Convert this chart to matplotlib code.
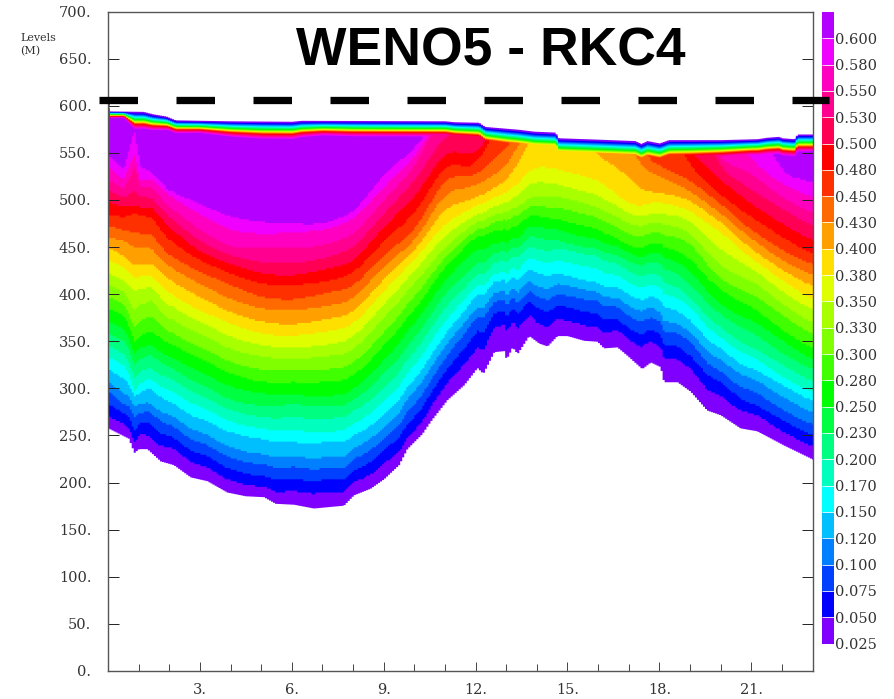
#!/usr/bin/env python3
"""Section of a tracer field: filled bands between isolines read off the plot."""

import numpy as np
import matplotlib
matplotlib.use("Agg")
import matplotlib.pyplot as plt

SERIF = "DejaVu Serif"
INK = "#333333"

levels = [0.025, 0.050, 0.075, 0.100, 0.120, 0.150, 0.170, 0.200, 0.230, 0.250, 0.280, 0.300,
          0.330, 0.350, 0.380, 0.400, 0.430, 0.450, 0.480, 0.500, 0.530, 0.550, 0.580, 0.600]
band_colors = ["#7f00ff", "#0000ff", "#0040ff", "#0080ff", "#00bfff", "#00ffff",
               "#00ffbf", "#00ff80", "#00ff40", "#00ff00", "#40ff00", "#80ff00",
               "#a8ff00", "#dfff00", "#ffdf00", "#ffa000", "#ff6a00", "#ff3000",
               "#ff0000", "#ff0055", "#ff0090", "#ff00c0", "#f000ff", "#b400ff"]

# height of each level's lower isoline at these stations, 600 = level absent there
iso_x = [0, 0.5, 0.85, 1.05, 1.4, 2, 3, 4, 5, 6, 7, 8, 9, 10, 11, 12, 13, 14, 15, 16, 17, 17.5, 18, 19, 20, 21, 22, 23]
iso_rows = [
    [258, 271, 284, 297, 307, 321, 334, 346, 358, 371, 385, 397, 410, 422, 436, 450, 461, 473, 485, 498, 510, 522, 535, 549],
    [250, 263, 274, 284, 295, 311, 325, 337, 351, 364, 378, 390, 403, 415, 429, 441, 457, 468, 482, 493, 503, 512, 522, 533],
    [232, 243, 256, 270, 281, 291, 298, 312, 325, 337, 350, 365, 383, 404, 417, 431, 450, 466, 486, 493, 510, 535, 549, 574],
    [236, 252, 263, 274, 284, 296, 305, 318, 331, 343, 356, 372, 389, 406, 419, 432, 450, 465, 484, 493, 503, 513, 522, 536],
    [236, 250, 265, 277, 286, 302, 312, 323, 337, 348, 362, 378, 394, 408, 420, 433, 449, 464, 482, 493, 503, 514, 523, 530],
    [220, 238, 249, 261, 272, 286, 298, 311, 323, 334, 348, 360, 374, 388, 401, 415, 429, 441, 457, 471, 482, 493, 505, 510],
    [204, 219, 231, 243, 254, 268, 281, 293, 305, 318, 332, 344, 358, 371, 383, 397, 411, 424, 436, 445, 456, 468, 485, 496],
    [190, 203, 215, 227, 238, 254, 265, 277, 288, 302, 316, 328, 342, 355, 369, 381, 395, 410, 422, 432, 441, 450, 468, 482],
    [186, 197, 208, 220, 231, 247, 258, 270, 282, 295, 307, 320, 334, 346, 358, 371, 385, 397, 411, 422, 434, 450, 464, 477],
    [177, 191, 204, 217, 228, 243, 256, 270, 284, 294, 307, 320, 332, 344, 356, 368, 383, 394, 410, 420, 433, 449, 466, 475],
    [174, 190, 203, 215, 227, 243, 254, 268, 281, 292, 307, 320, 334, 346, 360, 373, 387, 401, 413, 426, 438, 452, 468, 475],
    [180, 194, 206, 219, 231, 245, 258, 272, 284, 296, 311, 325, 339, 353, 367, 380, 394, 408, 422, 434, 449, 463, 479, 487],
    [204, 220, 235, 247, 259, 273, 286, 300, 316, 330, 346, 360, 376, 390, 404, 417, 431, 443, 457, 472, 486, 500, 514, 528],
    [248, 259, 273, 286, 300, 312, 327, 341, 355, 371, 385, 399, 413, 426, 438, 447, 457, 468, 486, 503, 521, 535, 546, 555],
    [288, 307, 321, 335, 348, 360, 374, 388, 403, 417, 431, 441, 452, 464, 477, 493, 509, 525, 539, 553, 570, 600, 600, 600],
    [321, 344, 362, 378, 388, 401, 411, 422, 434, 450, 463, 470, 478, 486, 495, 503, 516, 526, 535, 548, 575, 600, 600, 600],
    [331, 361, 376, 388, 399, 411, 420, 433, 443, 452, 466, 477, 486, 496, 507, 519, 534, 555, 600, 600, 600, 600, 600, 600],
    [350, 371, 387, 399, 410, 425, 438, 450, 463, 475, 486, 496, 506, 522, 538, 575, 600, 600, 600, 600, 600, 600, 600, 600],
    [356, 373, 387, 399, 410, 420, 434, 447, 454, 465, 477, 490, 502, 514, 530, 575, 600, 600, 600, 600, 600, 600, 600, 600],
    [350, 365, 380, 394, 403, 413, 428, 441, 449, 459, 470, 482, 493, 506, 522, 548, 600, 600, 600, 600, 600, 600, 600, 600],
    [337, 357, 367, 380, 390, 402, 414, 426, 436, 445, 452, 464, 475, 486, 496, 525, 560, 600, 600, 600, 600, 600, 600, 600],
    [323, 344, 358, 371, 383, 394, 407, 419, 430, 439, 449, 461, 472, 482, 494, 507, 530, 545, 600, 600, 600, 600, 600, 600],
    [323, 347, 360, 373, 383, 397, 410, 422, 436, 447, 457, 468, 479, 489, 500, 510, 526, 537, 600, 600, 600, 600, 600, 600],
    [297, 321, 335, 350, 360, 373, 387, 397, 411, 425, 438, 455, 466, 479, 489, 500, 510, 521, 535, 552, 600, 600, 600, 600],
    [272, 291, 307, 317, 330, 342, 353, 364, 378, 388, 404, 415, 429, 447, 466, 477, 486, 496, 505, 521, 533, 542, 600, 600],
    [256, 274, 284, 298, 311, 321, 334, 344, 360, 373, 387, 401, 415, 428, 438, 448, 459, 468, 482, 496, 511, 528, 542, 600],
    [240, 254, 266, 277, 291, 304, 312, 325, 337, 351, 362, 378, 390, 403, 415, 426, 436, 447, 461, 475, 491, 503, 517, 528],
    [225, 238, 250, 261, 274, 286, 296, 307, 320, 330, 342, 357, 369, 383, 394, 408, 420, 431, 442, 457, 472, 486, 503, 519],
]

# the ragged lower edge of the field
bottom_x = [0, 0.67, 0.85, 1.0, 1.27, 1.71, 2.14, 2.69, 3.23, 3.88, 4.48, 5.08, 5.46, 6.06, 6.71, 7.69,
            8.02, 8.56, 9.0, 9.49, 9.76, 10.25, 10.52, 11.07, 11.62, 12.05, 12.24, 12.6, 12.92, 13.0,
            13.2, 13.36, 13.74, 14.07, 14.34, 14.66, 14.99, 15.53, 15.97, 16.18, 16.62, 16.95, 17.43,
            17.71, 18.03, 18.14, 18.58, 19.01, 19.55, 19.99, 20.64, 21.18, 22.05, 23]
bottom_y = [258, 247, 232, 236, 236, 223, 219, 206, 202, 190, 186, 185, 178, 177, 173, 176,
            187, 194, 204, 219, 236, 252, 265, 288, 304, 322, 316, 339, 340, 331,
            344, 337, 356, 348, 345, 356, 356, 351, 350, 343, 344, 335, 321,
            328, 323, 307, 307, 297, 277, 272, 258, 255, 240, 225]

# the upper edge, and how far each level sits below it
surface_x = [0, 0.05, 1.15, 1.45, 1.9, 2.2, 4, 6, 6.3, 11, 11.3, 12.1, 12.3, 13.4, 13.9, 14.6, 14.7,
             16, 17.2, 17.4, 17.6, 18, 18.3, 20, 21.2, 21.5, 21.9, 22, 22.4, 22.5, 23]
surface_y = [603, 594.5, 594, 591.5, 589, 585, 584, 583.5, 584.5, 584, 583, 582.5, 578, 575, 573, 572, 566,
             564.5, 563, 560, 563, 560.5, 564, 564, 565, 566.5, 567.5, 566, 565, 570, 570]
stack_depth = [0, 1.7, 2.8, 3.6, 4.4, 5.3, 6, 6.6, 7.5, 8.2, 8.8, 9.4,
               10, 10.5, 11, 11.5, 12, 12.6, 13.2, 14, 15, 16, 17, 18]
stack_scale = [0.4, 0.37, 1, 1, 0.95, 0.76, 0.72, 0.9, 1, 1, 0.85, 0.9, 0.9, 0.9,
               0.9, 1.0, 1.15, 1.2, 1.2, 1.2, 1.2, 1.2, 1.2, 1.15, 1.05, 0.95, 1, 1]

y_ticks = [0, 50, 100, 150, 200, 250, 300, 350, 400, 450, 500, 550, 600, 650, 700]
x_ticks = [3, 6, 9, 12, 15, 18, 21]
x_minor = [1, 2, 4, 5, 7, 8, 10, 11, 13, 14, 16, 17, 19, 20, 22]
ref_line_x = [-0.29, 23.55]
ref_line_y = [606, 606]

W, H = 894, 699


def px_axes(fig, left, top, right, bottom):
    return fig.add_axes([left / W, 1 - bottom / H, (right - left) / W, (bottom - top) / H])


def soften(xf, line, width=11):
    # takes the corners off the station-to-station lines, but keep the narrow dip near x=1
    padded = np.pad(line, width, mode="edge")
    out = np.convolve(padded, np.ones(width) / width, mode="same")[width:-width]
    return np.where(xf < 2, line, out)


def draw_field(ax):
    rows = np.array(iso_rows, dtype=float)
    xf = np.linspace(0, 23, 350)
    surface = np.interp(xf, surface_x, surface_y)
    scale = np.interp(xf, iso_x, stack_scale)
    # isolines near the bed pick up the ragged edge, fading out going upward
    rag = np.interp(xf, bottom_x, bottom_y) - np.interp(xf, iso_x, rows[:, 0])
    for i, color in enumerate(band_colors):
        lower = soften(xf, np.interp(xf, iso_x, rows[:, i])) + rag * (1 - i / len(levels)) ** 2.5
        if i == 0:
            lower = np.interp(xf, bottom_x, bottom_y)
        else:
            lower = np.round(lower / 2) * 2  # the original is a coarse raster
        upper = np.maximum(lower, surface - stack_depth[i] * scale)
        ax.fill_between(xf, lower, upper, color=color, linewidth=0, zorder=1, step="mid")


def style_axes(ax):
    ax.set_xlim(0, 23)
    ax.set_ylim(0, 700)
    ax.set_yticks(y_ticks)
    ax.set_yticklabels([f"{v}." for v in y_ticks], family=SERIF, fontsize=10.5, color=INK)
    ax.set_xticks(x_ticks)
    ax.set_xticks(x_minor, minor=True)
    ax.set_xticklabels([f"{v}." for v in x_ticks], family=SERIF, fontsize=10.5, color=INK)
    ax.tick_params(axis="y", which="major", direction="in", left=True, right=True, length=8,
                   width=0.7, pad=12, color="#222222")
    ax.tick_params(axis="x", which="major", direction="in", length=6.5, width=0.7, pad=9,
                   color="#444444")
    ax.tick_params(axis="x", which="minor", direction="in", length=5, width=0.7, color="#444444")
    for spine in ax.spines.values():
        spine.set_linewidth(1)
        spine.set_color("#555555")
        spine.set_zorder(5)
    ax.set_axisbelow(False)


def draw_colorbar(cax):
    positions = np.arange(len(levels))
    cax.barh(positions + 0.5, 1, height=1, color=band_colors, linewidth=0)
    cax.hlines(positions[1:], 0, 1, color="white", linewidth=0.7, alpha=0.85)
    cax.set_xlim(0, 1)
    cax.set_ylim(0, len(levels))
    cax.set_xticks([])
    cax.set_yticks(positions)
    cax.set_yticklabels([f"{v:.3f}" for v in levels], family=SERIF, fontsize=10.5, color=INK)
    cax.yaxis.tick_right()
    cax.tick_params(axis="y", length=0, pad=1)
    for spine in cax.spines.values():
        spine.set_visible(False)


def main():
    fig = plt.figure(figsize=(W / 100, H / 100), dpi=100)
    ax = px_axes(fig, 108, 11.5, 812.5, 671)
    ax.set_zorder(2)  # the dashed line runs over the colour bar
    draw_field(ax)
    style_axes(ax)

    cax = px_axes(fig, 822, 12, 833.5, 643.5)
    draw_colorbar(cax)

    line_px = 7.3
    ax.plot(ref_line_x, ref_line_y, color="black", linewidth=line_px * 0.72, clip_on=False,
            dashes=(38.5 / line_px, 38.5 / line_px), dash_capstyle="butt", zorder=10)

    fig.text(491 / W, 1 - 52 / H, "WENO5 - RKC4", family="Liberation Sans", fontweight="bold",
             fontsize=38.5, ha="center", va="center", color="black")
    fig.text(20 / W, 1 - 45 / H, "Levels\n(M)", family=SERIF, fontsize=8, ha="left", va="center",
             color=INK, linespacing=1.35)

    fig.savefig("out.png", dpi=100)
    plt.close(fig)


if __name__ == "__main__":
    main()
